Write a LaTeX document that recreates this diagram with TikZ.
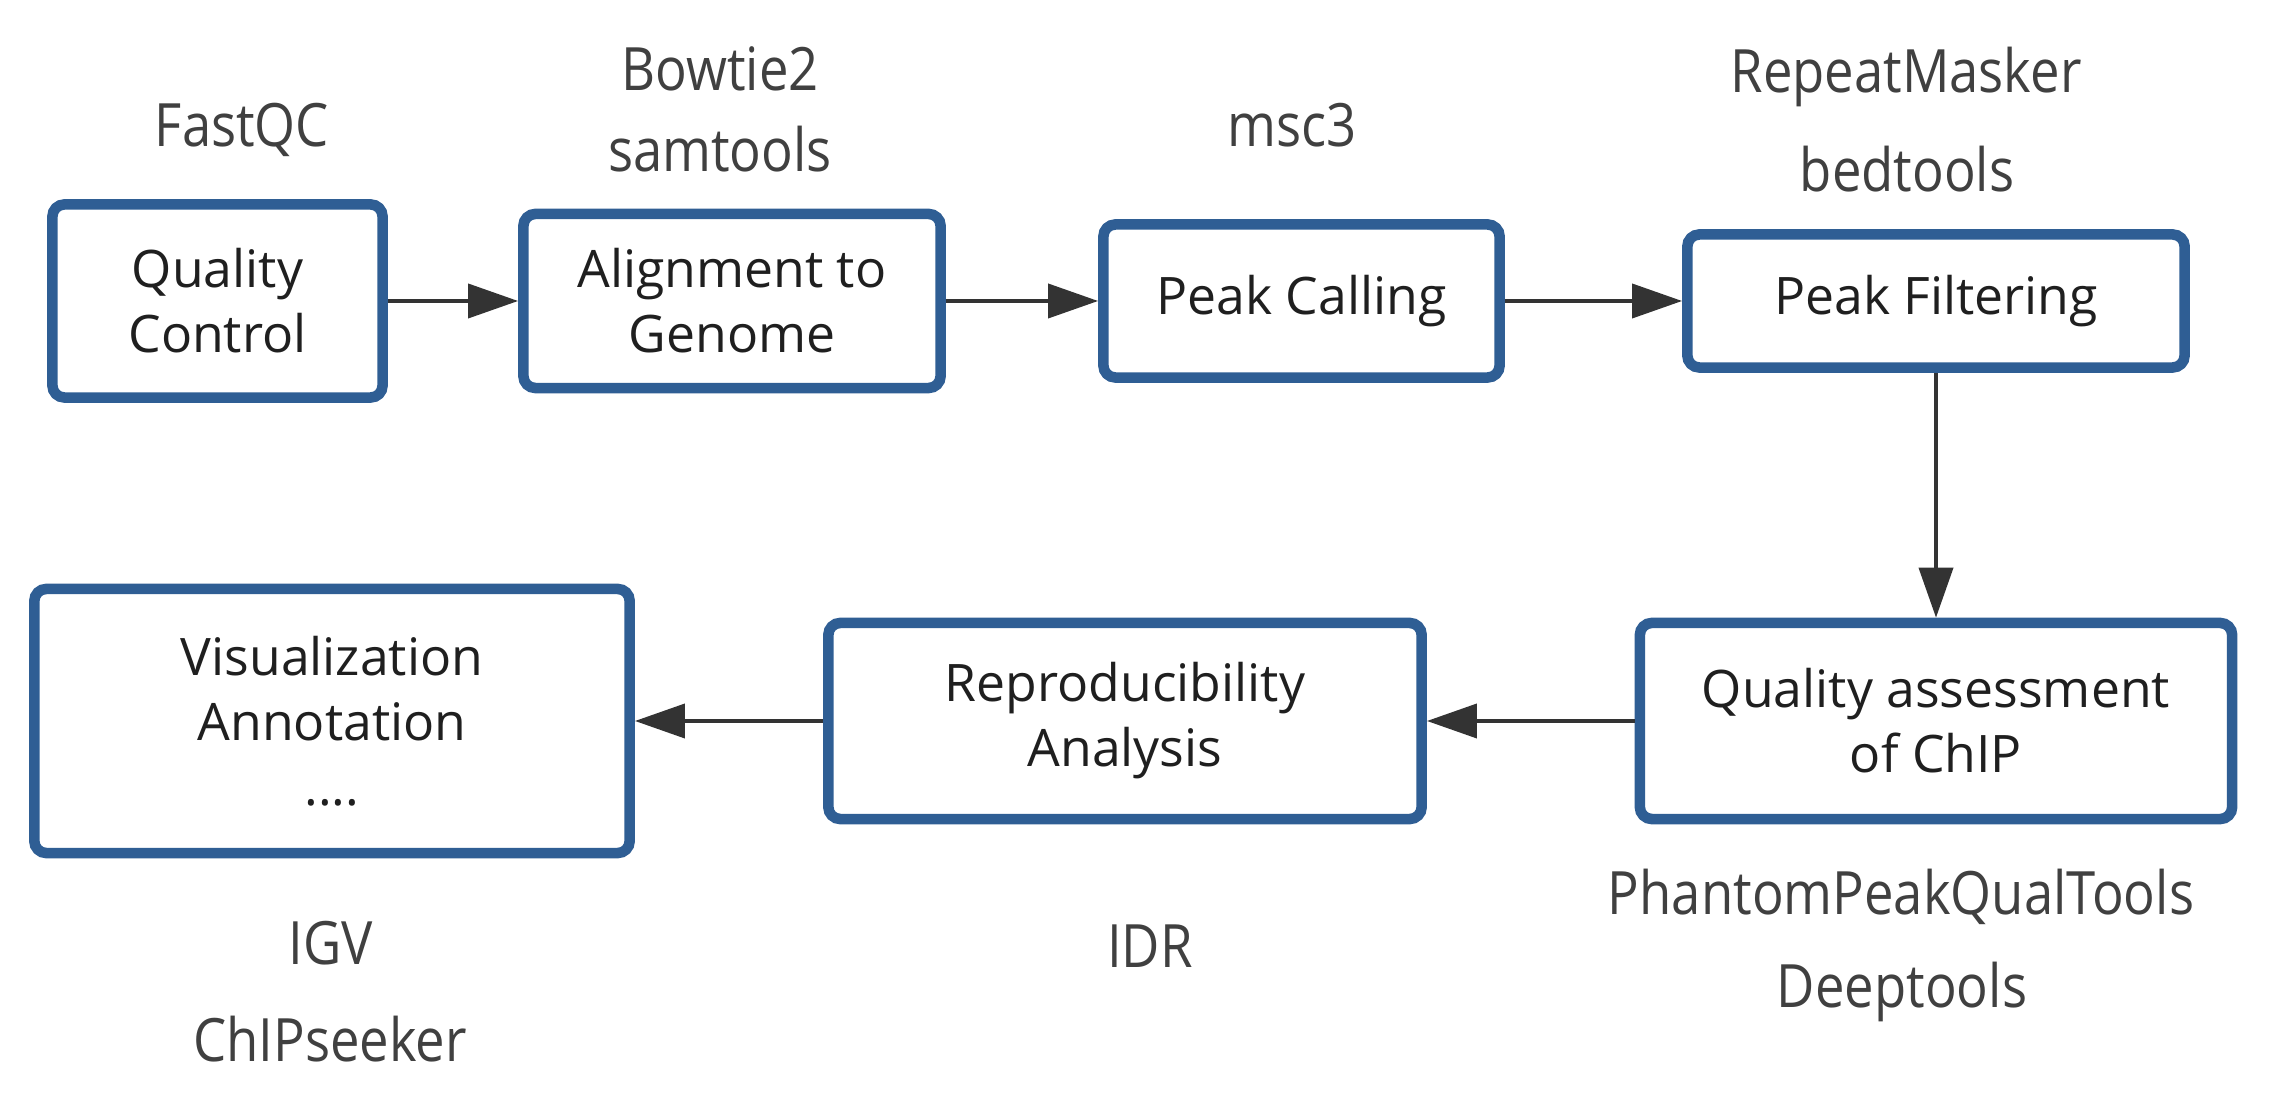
\documentclass[tikz,border=0pt]{standalone}
\usepackage{fontspec}
\setmainfont{Open Sans}
\newfontfamily\toolfont[FakeStretch=0.88]{Open Sans}
\usetikzlibrary{%
  positioning
 ,arrows.meta
}
\definecolor{boxblue}{RGB}{47,94,148}
\definecolor{arrgray}{RGB}{51,51,51}
\definecolor{toolgray}{RGB}{64,64,64}

\begin{document}
\begin{tikzpicture}[x=0.01cm,y=-0.01cm]
    \tikzstyle{stage}=[draw=boxblue,line width=3pt,rounded corners=1.2mm,
      fill=white,align=center,text=black!88,inner sep=0pt,
      font=\fontsize{14.7}{18.5}\selectfont]
    \tikzstyle{tool}=[anchor=base,text=toolgray,inner sep=0pt,
      font=\toolfont\fontsize{17}{20}\selectfont]
    \useasboundingbox (0,0) rectangle (2287,1098);
    % pipeline stages
    \node[stage,minimum width=3.30cm,minimum height=1.93cm](qc)at(217.5,301){Quality\\Control};
    \node[stage,minimum width=4.17cm,minimum height=1.74cm](align)at(732,301){Alignment to\\Genome};
    \node[stage,minimum width=3.96cm,minimum height=1.53cm](call)at(1301.5,301){Peak Calling};
    \node[stage,minimum width=4.97cm,minimum height=1.33cm](filt)at(1936,301){Peak Filtering};
    \node[stage,minimum width=5.92cm,minimum height=1.96cm](qa)at(1936,721){Quality assessment\\of ChIP};
    \node[stage,minimum width=5.93cm,minimum height=1.96cm](repro)at(1125,721){Reproducibility\\Analysis};
    \node[stage,minimum width=5.95cm,minimum height=2.64cm](vis)at(332,721){Visualization\\Annotation\\....};
    %
    % tools
    \node[tool](fastqc)at(242,147){FastQC};
    \node[tool](bowtie)at(720,91){Bowtie2};
    \node[tool](samtools)at(720,172){samtools};
    \node[tool](msc)at(1292,147){msc3};
    \node[tool](repeat)at(1906,93){RepeatMasker};
    \node[tool](bedtools)at(1907,192){bedtools};
    \node[tool](phantom)at(1901,915){PhantomPeakQualTools};
    \node[tool](deeptools)at(1902,1008){Deeptools};
    \node[tool](idr)at(1150,968){IDR};
    \node[tool](igv)at(331,965){IGV};
    \node[tool](chipseeker)at(330,1062){ChIPseeker};

    \tikzstyle{arr}=[-{Triangle[length=5mm,width=3.4mm]},line width=1.1pt,
                     color=arrgray]
    \draw[arr]
      (qc) edge (align)
      (align) edge (call)
      (call) edge (filt)
      (filt) edge (qa)
      (qa) edge (repro)
      (repro) edge (vis);
  \end{tikzpicture}
\end{document}
